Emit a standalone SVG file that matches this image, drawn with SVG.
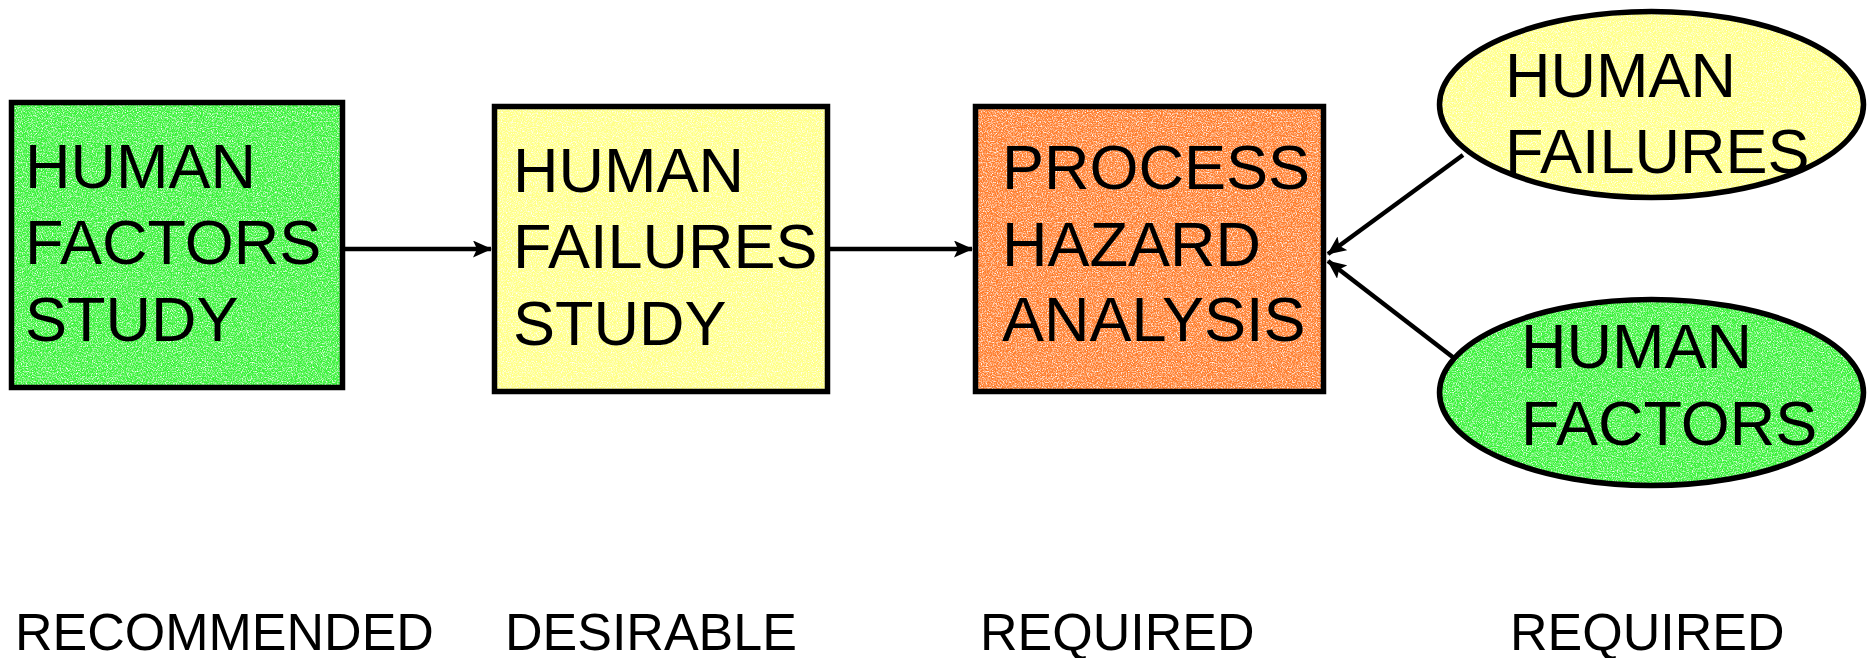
<svg xmlns="http://www.w3.org/2000/svg" width="1868" height="658" viewBox="0 0 1868 658">
<style>
.ln{stroke:#000;stroke-width:5.5;fill:none}
.f{stroke:none;filter:url(#speck)}
.g{fill:#38f238}
.y{fill:#ffff85}
.o{fill:#ff7d2c}
.t{font-family:"Liberation Sans",Arial,sans-serif;font-size:63px;fill:#000}
.lbl{font-family:"Liberation Sans",Arial,sans-serif;font-size:52px;fill:#000}
.c{stroke:#000;stroke-width:4.5;fill:none;marker-end:url(#ah)}
</style>
<defs>
<marker id="ah" markerWidth="19" markerHeight="17" refX="18" refY="8.5" orient="auto" markerUnits="userSpaceOnUse">
<path d="M0,0 L19,8.5 L0,17 L4,8.5 Z" fill="#000"/>
</marker>
<filter id="speck" x="0" y="0" width="1" height="1" color-interpolation-filters="sRGB">
<feTurbulence type="fractalNoise" baseFrequency="0.8" numOctaves="2" seed="7" result="n"/>
<feColorMatrix in="n" type="matrix" values="0 0 0 0 1  0 0 0 0 1  0 0 0 0 1  2.5 0 0 0 -1.05" result="w"/>
<feComposite in="w" in2="SourceGraphic" operator="in" result="ws"/>
<feMerge><feMergeNode in="SourceGraphic"/><feMergeNode in="ws"/></feMerge>
</filter>
</defs>
<g id="connectors">
<line class="c" x1="345" y1="249" x2="491" y2="249"/>
<line class="c" x1="830" y1="249" x2="972" y2="249"/>
<line class="c" x1="1463" y1="155" x2="1328" y2="254"/>
<line class="c" x1="1463" y1="365" x2="1328" y2="261"/>
</g>
<g id="n_hfs">
<rect class="f g" x="11.5" y="102.5" width="331" height="285"/>
<rect class="ln" x="11.5" y="102.5" width="331" height="285"/>
<text class="t" x="25" y="188">HUMAN</text>
<text class="t" x="25" y="264">FACTORS</text>
<text class="t" x="25" y="341">STUDY</text>
</g>
<g id="n_hfails">
<rect class="f y" x="494.5" y="106.5" width="333" height="285"/>
<rect class="ln" x="494.5" y="106.5" width="333" height="285"/>
<text class="t" x="513" y="192">HUMAN</text>
<text class="t" x="513" y="268">FAILURES</text>
<text class="t" x="513" y="345">STUDY</text>
</g>
<g id="n_pha">
<rect class="f o" x="975.5" y="106.5" width="348" height="285"/>
<rect class="ln" x="975.5" y="106.5" width="348" height="285"/>
<text class="t" x="1002" y="189">PROCESS</text>
<text class="t" x="1002" y="266">HAZARD</text>
<text class="t" x="1002" y="341">ANALYSIS</text>
</g>
<g id="n_hf">
<ellipse class="f y" cx="1651.5" cy="104.5" rx="212" ry="93"/>
<ellipse class="ln" cx="1651.5" cy="104.5" rx="212" ry="93"/>
<text class="t" x="1505" y="97">HUMAN</text>
<text class="t" x="1505" y="173">FAILURES</text>
</g>
<g id="n_hfac">
<ellipse class="f g" cx="1651.5" cy="392.5" rx="212" ry="93"/>
<ellipse class="ln" cx="1651.5" cy="392.5" rx="212" ry="93"/>
<text class="t" x="1521" y="368">HUMAN</text>
<text class="t" x="1521" y="445">FACTORS</text>
</g>
<g id="labels">
<text class="lbl" x="15" y="650">RECOMMENDED</text>
<text class="lbl" x="505" y="650">DESIRABLE</text>
<text class="lbl" x="980" y="650">REQUIRED</text>
<text class="lbl" x="1510" y="650">REQUIRED</text>
</g>
</svg>
